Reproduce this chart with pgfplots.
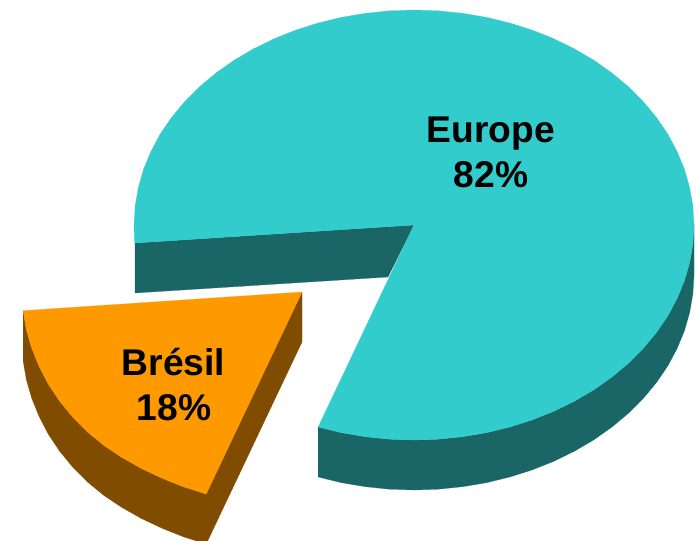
\documentclass[border=0pt]{standalone}
\usepackage{pgfplots}
\pgfplotsset{compat=1.18}
\usepackage{fontspec}
\setmainfont{Liberation Sans}
\definecolor{teal1}{HTML}{33CCCC}
\definecolor{teal2}{HTML}{1A6666}
\definecolor{or1}{HTML}{FF9900}
\definecolor{or2}{HTML}{804D00}
\begin{document}
\begin{tikzpicture}[x=1pt,y=1pt]
\begin{axis}[
  at={(0,0)}, anchor=south west,
  width=697pt, height=541pt, scale only axis,
  xmin=0, xmax=697, ymin=0, ymax=541, y dir=reverse,
  hide axis, clip=true]
% Europe: outer wall
\addplot[fill=teal2, draw=teal2, line width=0.2pt] coordinates {
 (694,225) (692.9,243.7) (689.7,262.3) (684.5,280.6) (677.1,298.5) (667.8,315.9) (656.5,332.5) (643.4,348.3) (628.5,363.2) (612,377) (594,389.7) (574.6,401.1) (554,411.2) (532.3,419.9) (509.8,427) (486.5,432.7) (462.6,436.7) (438.4,439.2) (414,440) (389.6,439.2) (365.4,436.7) (341.5,432.7) (318.2,427)
 (318.2,477) (341.5,482.7) (365.4,486.7) (389.6,489.2) (414,490) (438.4,489.2) (462.6,486.7) (486.5,482.7) (509.8,477) (532.3,469.9) (554,461.2) (574.6,451.1) (594,439.7) (612,427) (628.5,413.2) (643.4,398.3) (656.5,382.5) (667.8,365.9) (677.1,348.5) (684.5,330.6) (689.7,312.3) (692.9,293.7) (694,275)
} -- cycle;
% Europe: inner wall
\addplot[fill=teal2, draw=teal2, line width=0.2pt] coordinates {
 (135,243) (414,225) (388,277) (135,293)
} -- cycle;
% Europe: top
\addplot[fill=teal1, draw=teal1, line width=0.2pt] coordinates {
 (414,225) (134.6,243) (134,225) (135.1,206.3) (138.3,187.7) (143.5,169.4) (150.9,151.5) (160.2,134.1) (171.5,117.5) (184.6,101.7) (199.5,86.8) (216,73) (234,60.3) (253.4,48.9) (274,38.8) (295.7,30.1) (318.2,23) (341.5,17.3) (365.4,13.3) (389.6,10.8) (414,10)
 (438.4,10.8) (462.6,13.3) (486.5,17.3) (509.8,23) (532.3,30.1) (554,38.8) (574.6,48.9) (594,60.3) (612,73) (628.5,86.8) (643.4,101.7) (656.5,117.5) (667.8,134.1) (677.1,151.5) (684.5,169.4) (689.7,187.7) (692.9,206.3) (694,225)
 (692.9,243.7) (689.7,262.3) (684.5,280.6) (677.1,298.5) (667.8,315.9) (656.5,332.5) (643.4,348.3) (628.5,363.2) (612,377) (594,389.7) (574.6,401.1) (554,411.2) (532.3,419.9) (509.8,427) (486.5,432.7) (462.6,436.7) (438.4,439.2) (414,440) (389.6,439.2) (365.4,436.7) (341.5,432.7) (318.2,427)
} -- cycle;
% Bresil: walls
\addplot[fill=or2, draw=or2, line width=0.2pt] coordinates {
 (23.1,310.7) (26.3,329.3) (31.5,347.6) (38.9,366) (48.2,384) (59.5,401) (72.6,417) (87.5,432) (104,445.5) (122,457.5) (141.4,468.5) (162,478.2) (183.7,486.9) (206.2,494)
 (206.2,544) (183.7,536.9) (162,528.2) (141.4,518.5) (122,507.5) (104,495.5) (87.5,482) (72.6,467) (59.5,451) (48.2,434) (38.9,416) (31.5,397.6) (26.3,379.3) (23.1,360.7)
} -- cycle;
\addplot[fill=or2, draw=or2, line width=0.2pt] coordinates {
 (302,292) (206.2,494) (206.2,544) (302,342)
} -- cycle;
% Bresil: top
\addplot[fill=or1, draw=or1, line width=0.2pt] coordinates {
 (302,292) (23.1,310.7) (26.3,329.3) (31.5,347.6) (38.9,366) (48.2,384) (59.5,401) (72.6,417) (87.5,432) (104,445.5) (122,457.5) (141.4,468.5) (162,478.2) (183.7,486.9) (206.2,494)
} -- cycle;
\node[anchor=base, font=\fontsize{37.2pt}{40pt}\selectfont\bfseries] at (axis cs:491,142.5) {Europe};
\node[anchor=base, font=\fontsize{37.2pt}{40pt}\selectfont\bfseries] at (axis cs:491,187.5) {82\%};
\node[anchor=base, font=\fontsize{37.2pt}{40pt}\selectfont\bfseries] at (axis cs:173.5,375.5) {Brésil};
\node[anchor=base, font=\fontsize{37.2pt}{40pt}\selectfont\bfseries] at (axis cs:174,420.5) {18\%};
\end{axis}
\useasboundingbox (0,0) rectangle (697,541);
\end{tikzpicture}
\end{document}
